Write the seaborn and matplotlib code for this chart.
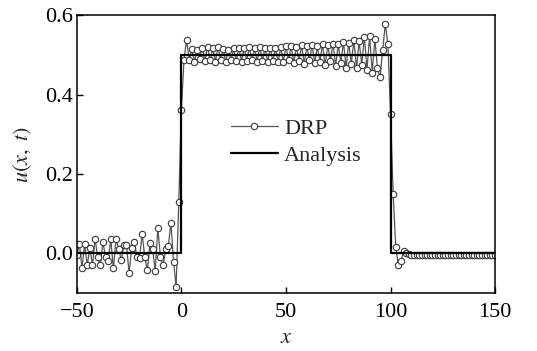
import numpy as np
import pandas as pd
import matplotlib
matplotlib.use("Agg")
import matplotlib.pyplot as plt
import seaborn as sns

# DRP numerical solution, grid spacing 1.25 from -50 to 150
x_start, dx = -50.0, 1.25
drp_left = [-0.005, 0.023, -0.036, 0.023, -0.030, 0.014, -0.030, 0.037, -0.010, -0.030,
            0.028, -0.010, -0.020, 0.035, -0.038, 0.035, 0.012, -0.017, 0.020, 0.022,
            -0.050, 0.014, 0.028, -0.009, -0.011, 0.049, -0.010, -0.042, 0.025, 0.010,
            -0.044, 0.064, -0.010, -0.030, 0.010, 0.018, 0.077, -0.021, -0.085, 0.130]
drp_plateau = [0.360,
               0.488, 0.537, 0.487, 0.514, 0.483, 0.512, 0.490, 0.518, 0.484, 0.520,
               0.486, 0.517, 0.483, 0.519, 0.488, 0.515, 0.482, 0.513, 0.486, 0.516,
               0.484, 0.518, 0.483, 0.517, 0.485, 0.519, 0.486, 0.516,
               0.483, 0.519, 0.485, 0.517, 0.482, 0.518, 0.484, 0.516, 0.481, 0.519,
               0.483, 0.521, 0.486, 0.523, 0.480, 0.520, 0.484, 0.524, 0.478, 0.522,
               0.486, 0.525, 0.479, 0.521, 0.483, 0.526, 0.474, 0.524, 0.485, 0.528,
               0.472, 0.526, 0.480, 0.532, 0.468, 0.530, 0.478, 0.537, 0.466, 0.534,
               0.475, 0.545, 0.462, 0.548, 0.455, 0.540, 0.466, 0.443, 0.512,
               0.577, 0.527, 0.350]
drp_right = [0.150, 0.015, -0.030, -0.020, 0.005, 0.002, -0.002, -0.003, -0.003, -0.003,
             -0.003, -0.003, -0.003, -0.003, -0.003, -0.003, -0.003, -0.003, -0.003, -0.003,
             -0.003, -0.003, -0.003, -0.003, -0.003, -0.003, -0.003, -0.003, -0.003, -0.003,
             -0.003, -0.003, -0.003, -0.003, -0.003, -0.003, -0.003, -0.003, -0.003, -0.003]
drp_u = drp_left + drp_plateau + drp_right
drp_x = np.arange(len(drp_u)) * dx + x_start

# Analytical solution (square pulse)
ana_x = [-50, 0, 0, 100, 100, 150]
ana_u = [0.0, 0.0, 0.5, 0.5, 0.0, 0.0]

x_ticks = [-50, 0, 50, 100, 150]
y_ticks = [0.0, 0.2, 0.4, 0.6]
y_ticklabels = ["0.0", "0.2", "0.4", "0.6"]

df_drp = pd.DataFrame({"x": drp_x, "u": drp_u})
df_ana = pd.DataFrame({"x": ana_x, "u": ana_u})

sns.set_style("ticks")
plt.rcParams["font.family"] = ["Liberation Serif", "DejaVu Serif"]
plt.rcParams["mathtext.fontset"] = "stix"

fig = plt.figure(figsize=(5.37, 3.51), dpi=100)
ax = fig.add_axes([0.143, 0.165, 0.779, 0.792])

sns.lineplot(data=df_drp, x="x", y="u", ax=ax, estimator=None, sort=False,
             color="#555555", linewidth=0.9, marker="o", markersize=4.6,
             markerfacecolor="white", markeredgecolor="#3a3a3a", markeredgewidth=0.8,
             label="DRP", zorder=2)
sns.lineplot(data=df_ana, x="x", y="u", ax=ax, estimator=None, sort=False,
             color="black", linewidth=1.6, label="Analysis", zorder=3)

ax.set_xlim(-50, 150)
ax.set_ylim(-0.1, 0.6)
ax.set_xticks(x_ticks)
ax.set_yticks(y_ticks)
ax.set_yticklabels(y_ticklabels)
ax.tick_params(direction="in", length=4, width=1, labelsize=16, colors="black")
ax.tick_params(axis="x", pad=7)
ax.tick_params(axis="y", pad=3)
for s in ax.spines.values():
    s.set_linewidth(1.1)
    s.set_color("black")
ax.set_xticklabels([str(t).replace("-", "\u2212") for t in x_ticks])

ax.set_xlabel("$x$", fontsize=16, labelpad=5)
ax.set_ylabel("$u(x,\\ t)$", fontsize=16, labelpad=8)

leg = ax.legend(loc="upper left", bbox_to_anchor=(0.347, 0.66), frameon=False,
                fontsize=16, handlelength=2.1, handletextpad=0.3, labelspacing=0.3,
                borderaxespad=0, numpoints=1)

fig.savefig("out.png", dpi=100)
